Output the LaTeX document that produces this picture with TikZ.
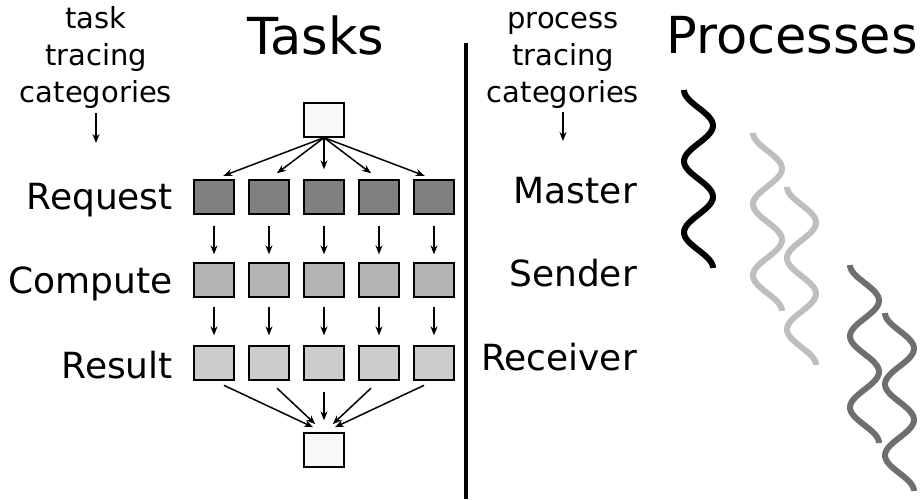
\documentclass[tikz,border=0pt]{standalone}
\usepackage{fontspec}
\setmainfont{DejaVu Sans}
\usepackage{xcolor}
\usepackage{tikz}
\usetikzlibrary{arrows.meta}
\definecolor{reqgray}{HTML}{808080}
\definecolor{compgray}{HTML}{B3B3B3}
\definecolor{resgray}{HTML}{CCCCCC}
\definecolor{endgray}{HTML}{F8F8F8}
\definecolor{lightwave}{HTML}{BEBEBE}
\definecolor{darkwave}{HTML}{6F6F6F}

\begin{document}
\begin{tikzpicture}[x=1pt,y=-1pt,
  cell/.style={draw, line width=1.3pt, minimum width=40pt, minimum height=34pt, inner sep=0pt},
  arr/.style={-{Stealth[length=9pt,width=7pt]}, line width=1.5pt},
  rowlabel/.style={font=\fontsize{36}{43}\selectfont, anchor=base east, inner sep=0pt},
  catlabel/.style={font=\fontsize{29}{37}\selectfont, align=center, anchor=north, inner sep=0pt},
  title/.style={font=\fontsize{51}{60}\selectfont, inner sep=0pt},
  wave/.style={line width=6pt}]
\useasboundingbox (0,0) rectangle (922,499);

\node [catlabel] (tcat) at (96,2) {\strut task\\tracing\\categories};
\coordinate (tcatend) at (96,143);
\draw [arr, shorten <=5pt] (tcat.south) -- (tcatend);
\node [title] (tasks) at (316,35) {Tasks};

\node [rowlabel] (request) at (173,209) {Request};
\node [rowlabel] (compute) at (173,293) {Compute};
\node [rowlabel] (result) at (173,378) {Result};

\node [cell, fill=endgray] (top) at (324,120) {};
\node [cell, fill=endgray] (bot) at (324,450) {};
\foreach \i in {1,...,5} {
  \pgfmathsetmacro\cx{214+55*(\i-1)}
  \node [cell, fill=reqgray] (req\i) at (\cx,197) {};
  \node [cell, fill=compgray] (comp\i) at (\cx,280) {};
  \node [cell, fill=resgray] (res\i) at (\cx,363) {};
  \draw [arr, shorten >=10pt] (top.south) -- (req\i.north);
  \draw [arr, shorten <=11pt, shorten >=8pt] (req\i.south) -- (comp\i.north);
  \draw [arr, shorten <=9pt, shorten >=10pt] (comp\i.south) -- (res\i.north);
  \draw [arr, shorten <=11pt, shorten >=12pt] (res\i.south) -- (bot.north);
}

% Divider between tasks and processes
\draw [line width=4pt] (466,43) -- (466,499);

\node [catlabel] (pcat) at (563,2) {\strut process\\tracing\\categories};
\coordinate (pcatend) at (563,141);
\draw [arr, shorten <=4pt] (pcat.south) -- (pcatend);
\node [title] (processes) at (792,35) {Processes};

\node [rowlabel] (master) at (637,203) {Master};
\node [rowlabel] (sender) at (637,286) {Sender};
\node [rowlabel] (receiver) at (637,370) {Receiver};

\foreach \wx/\wy/\wc in {684/90/black, 753/133/lightwave, 787/187/lightwave, 850/265/darkwave, 885/313/darkwave}
  \draw [wave, \wc] plot [domain=0:5, samples=80, smooth] ({\wx+14.5-14.5*cos(180*\x)}, {\wy+35.6*\x});
\end{tikzpicture}
\end{document}
